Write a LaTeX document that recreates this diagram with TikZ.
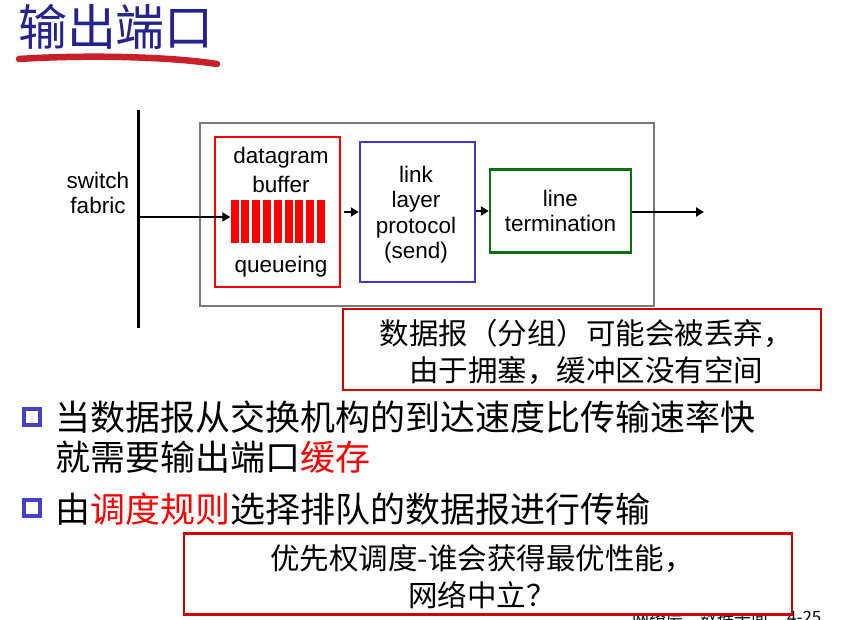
\documentclass[tikz,border=0pt]{standalone}
\usepackage{fontspec}
\setmainfont{Liberation Sans}
\newfontfamily\cjk{Noto Sans CJK SC}
\usetikzlibrary{arrows.meta}

\definecolor{titleblue}{HTML}{24248C}
\definecolor{brushred}{HTML}{C8202A}
\definecolor{calloutred}{HTML}{D00000}
\definecolor{protoblue}{HTML}{3A3ACC}
\definecolor{termgreen}{HTML}{0E6E12}
\definecolor{portgray}{HTML}{7A7A7A}
\definecolor{bulletblue}{HTML}{4242C8}

\tikzset{
  titletext/.style={font=\cjk\fontsize{49}{49}\selectfont, text=titleblue, inner sep=0},
  brush/.style={line width=6.5pt, line cap=round, draw=brushred},
  latin/.style={font=\fontsize{22.5}{25.5}\selectfont, align=center, inner sep=0},
  fabricline/.style={line width=3pt},
  arr/.style={line width=2.8pt, -{Triangle[length=8pt,width=9pt]}},
  portbox/.style={draw=portgray, line width=2pt, minimum width=454pt, minimum height=183pt, inner sep=0},
  bufbox/.style={draw=red, line width=2.5pt, minimum width=125pt, minimum height=150pt, inner sep=0},
  protobox/.style={draw=protoblue, line width=2.5pt, minimum width=115pt, minimum height=140pt, inner sep=0},
  termbox/.style={draw=termgreen, line width=2.5pt, minimum width=141pt, minimum height=83pt, inner sep=0},
  callout/.style={draw=calloutred, fill=white, line width=2.2pt, inner sep=0},
  callouttext/.style={font=\cjk\fontsize{29.5}{37}\selectfont, align=center, inner sep=0},
  bullettext/.style={font=\cjk\fontsize{35}{35}\selectfont, anchor=west, inner sep=0},
  bulletbox/.style={draw=bulletblue, line width=3.8pt, fill=white, minimum width=16pt, minimum height=16pt, inner sep=0},
  footer/.style={font=\cjk\fontsize{17}{17}\selectfont, anchor=north west, inner sep=0}
}

\begin{document}
\begin{tikzpicture}[x=1pt,y=-1pt]
\useasboundingbox (0,0) rectangle (841,620);

% heading with brush underline
\node[titletext] (title) at (116,27) {输出端口};
\coordinate (ulA) at (19,59);
\coordinate (ulB) at (217,64);
\draw[brush] (ulA) .. controls (80,55) and (165,56) .. (ulB);

% switch fabric
\coordinate (ftop) at (138,110);
\coordinate (fbot) at (138,328);
\draw[fabricline] (ftop) -- (fbot);
\node[latin] (fabric) at (98,193) {switch\\fabric};

% output port enclosure
\node[portbox] (port) at (427,214.5) {};

% datagram buffer
\node[bufbox] (buf) at (277.5,212) {};
\node[latin] (bufA) at (281,158) {datagram};
\node[latin] (bufB) at (281,184) {buffer};
\node[latin] (bufC) at (281,267) {queueing};
\node[inner sep=0, minimum width=95pt, minimum height=43pt] (bars) at (278,221.5) {};
\foreach \i in {0,...,8}
  \fill[red] (230.5+\i*10.8,200) rectangle ++(8,43);

% link layer protocol
\node[protobox] (llp) at (417.5,212) {};
\node[latin] (llptext) at (416,214.5) {link\\layer\\protocol\\(send)};

% line termination
\node[termbox, latin] (lt) at (560.5,211) {line\\termination};

% connectors
\coordinate (fin) at (138,217);
\draw[arr] (fin) -- (bars.west |- fin);
\draw[arr] ([xshift=3pt]buf.east) -- (llp.west);
\draw[arr] (llp.east |- lt.west) -- (lt.west);
\coordinate (out) at (704,212);
\draw[arr] (lt.east |- out) -- (out);

% drop note
\node[callout, minimum width=478pt, minimum height=81pt] (drop) at (582,349.5) {};
\node[callouttext] (droptext) at (586,352) {数据报（分组）可能会被丢弃，\\由于拥塞，缓冲区没有空间};

% bullets
\node[bulletbox] (b1) at (32,417) {};
\node[bullettext] (t1) at (55,417) {当数据报从交换机构的到达速度比传输速率快};
\node[bullettext] (t2) at (55,457) {就需要输出端口\textcolor{red}{缓存}};
\node[bulletbox] (b2) at (32,508) {};
\node[bullettext] (t3) at (55,509) {由\textcolor{red}{调度规则}选择排队的数据报进行传输};

% footer, partly hidden below the second note
\node[footer] (foot) at (632,609) {网络层：数据平面\hspace{19pt}4-25};

% scheduling note
\node[callout, minimum width=608pt, minimum height=81pt] (prio) at (488,574) {};
\node[callouttext] (priotext) at (482,577) {优先权调度-谁会获得最优性能，\\网络中立？};
\end{tikzpicture}
\end{document}
